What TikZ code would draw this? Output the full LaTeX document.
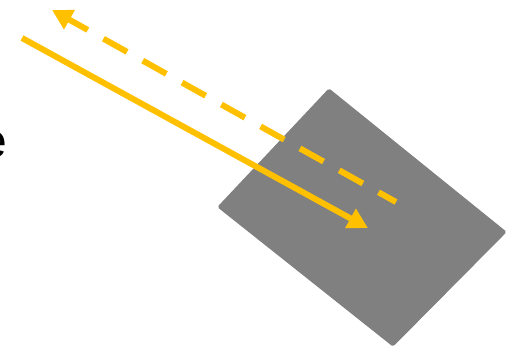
\documentclass[tikz,border=0pt]{standalone}
\usepackage{fontspec}
\setmainfont{Liberation Sans}
\usetikzlibrary{arrows.meta}
\definecolor{beam}{RGB}{255,192,0}
\definecolor{plate}{RGB}{128,128,128}
\tikzset{
  ray/.style={draw=beam, line width=6pt, -{Triangle[length=20pt,width=21pt]}},
  rayback/.style={ray, dash pattern=on 27pt off 18pt, dash phase=7pt},
  platefill/.style={fill=plate, draw=plate, line width=1pt, rounded corners=1.5pt}
}
\begin{document}
\begin{tikzpicture}[x=1pt,y=-1pt]
\useasboundingbox (0,0) rectangle (514,348);
% plate
\coordinate (pt) at (329,89);
\coordinate (pr) at (506,232);
\coordinate (pb) at (393,346);
\coordinate (pl) at (218,207);
\path[platefill] (pt) -- (pr) -- (pb) -- (pl) -- cycle;
% letter cut at the left edge
\node[anchor=base east, inner sep=0pt, font=\fontsize{48}{50}\selectfont] (lbl) at (7.5,157.5) {e};
% rays
\coordinate (inStart) at (22,38);
\coordinate (inEnd) at (368,228);
\coordinate (outStart) at (396,202);
\coordinate (outEnd) at (52,10);
\draw[ray] (inStart) -- (inEnd);
\draw[rayback] (outStart) -- (outEnd);
\end{tikzpicture}
\end{document}
